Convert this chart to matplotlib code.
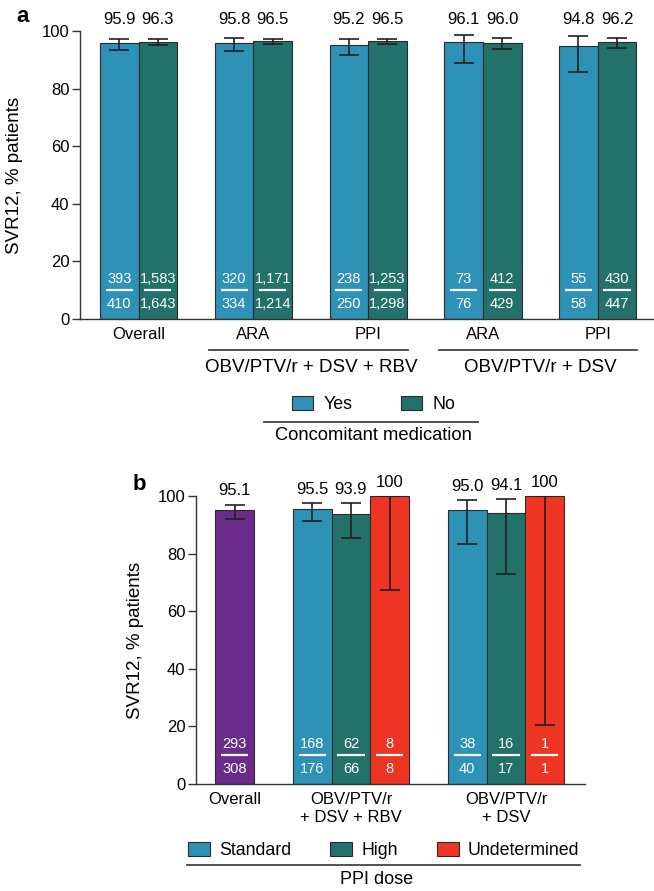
import numpy as np
import matplotlib
matplotlib.use('Agg')
import matplotlib.pyplot as plt
from matplotlib.patches import Patch

plt.rcParams['font.family'] = ['Liberation Sans', 'DejaVu Sans']

BLUE = '#2e92b6'
TEAL = '#22716a'
PURPLE = '#6a2b8d'
RED = '#ee3524'
EDGE = '#2a2a2a'
INK = '#231f20'

# ---- panel a: concomitant medication (yes / no)
cats_a = ['Overall', 'ARA', 'PPI', 'ARA', 'PPI']
regimens_a = ['OBV/PTV/r + DSV + RBV', 'OBV/PTV/r + DSV']
regimen_members_a = [(1, 2), (3, 4)]
yes_pct = [95.9, 95.8, 95.2, 96.1, 94.8]
no_pct = [96.3, 96.5, 96.5, 96.0, 96.2]
yes_lo = [93.4, 93.1, 91.8, 89.0, 85.9]
yes_hi = [97.3, 97.7, 97.2, 98.7, 98.4]
no_lo = [95.2, 95.4, 95.5, 93.6, 94.0]
no_hi = [97.2, 97.3, 97.3, 97.7, 97.7]
yes_n = ['393', '320', '238', '73', '55']
yes_tot = ['410', '334', '250', '76', '58']
no_n = ['1,583', '1,171', '1,253', '412', '430']
no_tot = ['1,643', '1,214', '1,298', '429', '447']

# ---- panel b: PPI dose
cats_b = ['Overall', 'OBV/PTV/r\n+ DSV + RBV', 'OBV/PTV/r\n+ DSV']
dose_names = ['Standard', 'High', 'Undetermined']
overall_pct = 95.1
overall_lo = 92.0
overall_hi = 97.0
overall_n = '293'
overall_tot = '308'
std_pct = [95.5, 95.0]
std_lo = [91.3, 83.4]
std_hi = [97.6, 98.6]
std_n = ['168', '38']
std_tot = ['176', '40']
high_pct = [93.9, 94.1]
high_lo = [85.3, 72.9]
high_hi = [97.6, 99.0]
high_n = ['62', '16']
high_tot = ['66', '17']
und_pct = [100, 100]
und_lo = [67.5, 20.5]
und_hi = [100, 100]
und_n = ['8', '1']
und_tot = ['8', '1']


def style_axis(ax):
    for s in ['top', 'right']:
        ax.spines[s].set_visible(False)
    for s in ['left', 'bottom']:
        ax.spines[s].set_color('#333333')
        ax.spines[s].set_linewidth(1.0)
    ax.set_ylim(0, 100)
    ax.set_yticks(np.arange(0, 101, 20))
    ax.tick_params(axis='y', length=5.5, width=1.0, color='#333333', pad=2, labelsize=12)
    ax.tick_params(axis='x', length=0, pad=6, labelsize=12)
    ax.set_ylabel('SVR12, % patients', fontsize=13.5)


def fraction(ax, x, num, den, half):
    ax.text(x, 14, num, ha='center', va='center', color='white', fontsize=10.5)
    ax.plot([x - half, x + half], [10, 10], color='white', lw=1.6, solid_capstyle='butt')
    ax.text(x, 5.3, den, ha='center', va='center', color='white', fontsize=10.5)


def bars(ax, x, pct, lo, hi, color, w):
    pct = np.asarray(pct, dtype=float)
    ax.bar(x, pct, width=w, color=color, edgecolor=EDGE, linewidth=0.8, zorder=2)
    yerr = [pct - np.asarray(lo), np.asarray(hi) - pct]
    ax.errorbar(x, pct, yerr=yerr, fmt='none', ecolor=INK, elinewidth=1.2,
                capsize=7, capthick=1.2, zorder=3)


fig = plt.figure(figsize=(6.54, 8.91), dpi=100)

# ================= panel a
ax = fig.add_axes([80 / 654, 1 - 319 / 891, 574 / 654, 288 / 891])
style_axis(ax)
w = 0.336
x = np.arange(len(cats_a))
bars(ax, x - w / 2, yes_pct, yes_lo, yes_hi, BLUE, w)
bars(ax, x + w / 2, no_pct, no_lo, no_hi, TEAL, w)
for i in range(len(cats_a)):
    ax.text(x[i] - w / 2, 104.1, f'{yes_pct[i]:.1f}', ha='center', va='center', fontsize=12, clip_on=False)
    ax.text(x[i] + w / 2, 104.1, f'{no_pct[i]:.1f}', ha='center', va='center', fontsize=12, clip_on=False)
    fraction(ax, x[i] - w / 2, yes_n[i], yes_tot[i], 0.118)
    fraction(ax, x[i] + w / 2, no_n[i], no_tot[i], 0.118)
ax.set_xlim(-0.511, 4.49)
ax.set_xticks(x)
ax.set_xticklabels(cats_a)

tr = ax.get_xaxis_transform()
for name, (i0, i1) in zip(regimens_a, regimen_members_a):
    ax.plot([x[i0] - w - 0.05, x[i1] + w + 0.01], [-0.108, -0.108], transform=tr,
            color='#444444', lw=1.3, clip_on=False)
    ax.text((x[i0] + x[i1]) / 2, -0.167, name, transform=tr, ha='center', va='center', fontsize=13.5)

handles = [Patch(facecolor=BLUE, edgecolor=EDGE, linewidth=0.8, label='Yes'),
           Patch(facecolor=TEAL, edgecolor=EDGE, linewidth=0.8, label='No')]
ax.legend(handles=handles, loc='center', bbox_to_anchor=(0.512, -0.297), ncol=2,
          frameon=False, fontsize=12.8, handlelength=1.2, handleheight=0.86,
          handletextpad=0.6, columnspacing=2.7, borderpad=0)
ax.plot([0.3206, 0.6934], [-0.357, -0.357], transform=ax.transAxes, color='#444444',
        lw=1.3, clip_on=False)
ax.text(0.512, -0.406, 'Concomitant medication', transform=ax.transAxes,
        ha='center', va='center', fontsize=13.2)

# ================= panel b
bx = fig.add_axes([196 / 654, 1 - 784 / 891, 389 / 654, 288 / 891])
style_axis(bx)
wb = 1.0
group_x = np.array([3, 7])
bars(bx, [0], [overall_pct], [overall_lo], [overall_hi], PURPLE, wb)
bars(bx, group_x - 1, std_pct, std_lo, std_hi, BLUE, wb)
bars(bx, group_x, high_pct, high_lo, high_hi, TEAL, wb)
bars(bx, group_x + 1, und_pct, und_lo, und_hi, RED, wb)


def top_label(ax, xp, pct, hi):
    txt = f'{pct:g}' if pct == 100 else f'{pct:.1f}'
    ax.text(xp, hi + 4.8, txt, ha='center', va='center', fontsize=12, clip_on=False)


top_label(bx, 0, overall_pct, overall_hi)
fraction(bx, 0, overall_n, overall_tot, 0.35)
for j, gx in enumerate(group_x):
    for off, pct, hi, n, tot in [(-1, std_pct, std_hi, std_n, std_tot),
                                 (0, high_pct, high_hi, high_n, high_tot),
                                 (1, und_pct, und_hi, und_n, und_tot)]:
        top_label(bx, gx + off, pct[j], hi[j])
        fraction(bx, gx + off, n[j], tot[j], 0.35)
bx.set_xlim(-1.0, 9.04)
bx.set_xticks([0, *group_x])
bx.set_xticklabels(cats_b)

handles_b = [Patch(facecolor=c, edgecolor=EDGE, linewidth=0.8, label=n)
             for c, n in zip([BLUE, TEAL, RED], dose_names)]
bx.legend(handles=handles_b, loc='center', bbox_to_anchor=(0.482, -0.231), ncol=3,
          frameon=False, fontsize=12.8, handlelength=1.25, handleheight=0.86,
          handletextpad=0.5, columnspacing=2.2, borderpad=0)
bx.plot([-0.023, 0.987], [-0.281, -0.281], transform=bx.transAxes, color='#444444',
        lw=1.3, clip_on=False)
bx.text(0.465, -0.333, 'PPI dose', transform=bx.transAxes, ha='center', va='center', fontsize=13)

# y label positions
ax.yaxis.set_label_coords(-0.099, 0.5)
bx.yaxis.set_label_coords(-0.134, 0.5)

fig.text(23 / 654, 1 - 16 / 891, 'a', fontsize=16, fontweight='bold', ha='center', va='center')
fig.text(139 / 654, 1 - 485 / 891, 'b', fontsize=16, fontweight='bold', ha='center', va='center')

fig.savefig('out.png', dpi=100)
